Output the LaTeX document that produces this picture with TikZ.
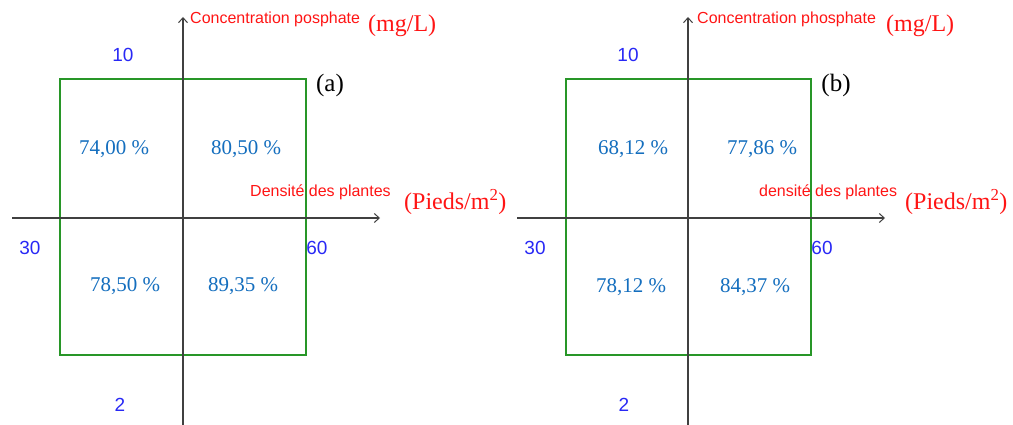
\documentclass[tikz,border=0pt]{standalone}
\usepackage{fontspec}
\setmainfont{Liberation Serif}
\newfontfamily\labelfont{Liberation Sans}
\usetikzlibrary{arrows.meta}

\definecolor{axisred}{RGB}{255,20,20}
\definecolor{ticksblue}{RGB}{40,40,245}
\definecolor{valblue}{RGB}{20,110,190}
\definecolor{boxgreen}{RGB}{40,150,40}

\begin{document}
\begin{tikzpicture}[x=1pt, y=-1pt,
  axis/.style={draw=black!75, line width=1.3pt, -{Straight Barb[length=5pt, width=9pt, line width=1pt]}},
  frame/.style={draw=boxgreen, line width=1.8pt},
  axlabel/.style={text=axisred, font=\labelfont\fontsize{16}{17}\selectfont, inner sep=0pt, anchor=west},
  unit/.style={text=axisred, font=\fontsize{24}{26}\selectfont, inner sep=0pt, anchor=west},
  tick/.style={text=ticksblue, font=\labelfont\fontsize{19}{20}\selectfont, inner sep=0pt},
  val/.style={text=valblue, font=\fontsize{21}{22}\selectfont, inner sep=0pt},
  tag/.style={font=\fontsize{25}{26}\selectfont, inner sep=0pt}]
\useasboundingbox (0,0) rectangle (1013,425);

% panel (a)
\coordinate (a-ybot) at (183,425);
\coordinate (a-ytop) at (183,17);
\coordinate (a-xleft) at (12,218);
\coordinate (a-xright) at (380,218);
\coordinate (a-sw) at (60,355);
\coordinate (a-ne) at (306,79);
\draw[frame] (a-sw) rectangle (a-ne);
\draw[axis] (a-ybot) -- (a-ytop);
\draw[axis] (a-xleft) -- (a-xright);
\node[axlabel] (a-ylab) at (190,19) {Concentration posphate};
\node[unit] (a-yunit) at (368,26) {(mg/L)};
\node[axlabel] (a-xlab) at (250,192) {Densité des plantes};
\node[unit] (a-xunit) at (404,202) {(Pieds/m\textsuperscript{2})};
\node[tag] (a-tag) at (330,85) {(a)};
\node[tick] (a-top) at (123,55) {10};
\node[tick] (a-bot) at (120,405) {2};
\node[tick] (a-left) at (30,248) {30};
\node[tick] (a-right) at (317,248) {60};
\node[val] (a-q1) at (114,149) {74,00 \%};
\node[val] (a-q2) at (246,149) {80,50 \%};
\node[val] (a-q3) at (125,286) {78,50 \%};
\node[val] (a-q4) at (243,286) {89,35 \%};

% panel (b)
\coordinate (b-ybot) at (688,425);
\coordinate (b-ytop) at (688,17);
\coordinate (b-xleft) at (517,218);
\coordinate (b-xright) at (885,218);
\coordinate (b-sw) at (566,355);
\coordinate (b-ne) at (811,79);
\draw[frame] (b-sw) rectangle (b-ne);
\draw[axis] (b-ybot) -- (b-ytop);
\draw[axis] (b-xleft) -- (b-xright);
\node[axlabel] (b-ylab) at (697,19) {Concentration phosphate};
\node[unit] (b-yunit) at (886,26) {(mg/L)};
\node[axlabel] (b-xlab) at (759,192) {densité des plantes};
\node[unit] (b-xunit) at (905,202) {(Pieds/m\textsuperscript{2})};
\node[tag] (b-tag) at (836,85) {(b)};
\node[tick] (b-top) at (628,55) {10};
\node[tick] (b-bot) at (624,405) {2};
\node[tick] (b-left) at (535,248) {30};
\node[tick] (b-right) at (822,248) {60};
\node[val] (b-q1) at (633,149) {68,12 \%};
\node[val] (b-q2) at (762,149) {77,86 \%};
\node[val] (b-q3) at (631,287) {78,12 \%};
\node[val] (b-q4) at (755,287) {84,37 \%};
\end{tikzpicture}
\end{document}
